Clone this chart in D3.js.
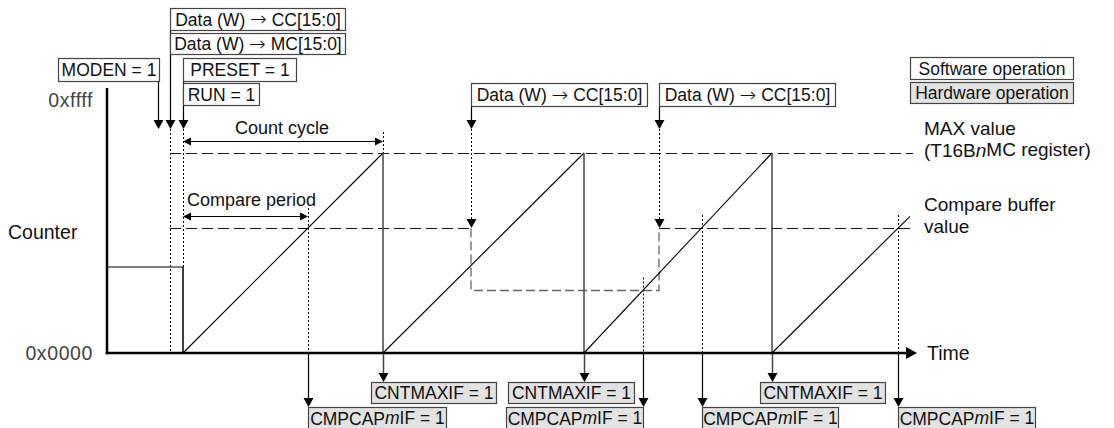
<!DOCTYPE html>
<html>
<head>
<meta charset="utf-8">
<title>Counter operation timing</title>
<style>
  body { margin: 0; background: #fff; }
  text { font-family: "Liberation Sans", Arial, sans-serif; fill: #111; }
</style>
</head>
<body>
<script src="https://cdn.jsdelivr.net/npm/d3@7/dist/d3.min.js"></script>
<script>
// counter waveform (time units, counter value)
var counterTime  = [0, 76, 76, 276, 276, 477, 477, 665, 665, 803];
var counterValue = [0x5800, 0x5800, 0, 0xcccc, 0, 0xcccc, 0, 0xcccc, 0, 0x8c00];
var maxTime  = [63, 806];
var maxValue = 0xcccc;
var compareTime  = [63, 364, 364, 552, 552, 806];
var compareValue = [0x8000, 0x8000, 0x4000, 0x4000, 0x8000, 0x8000];
var yTickValues = [0x0000, 0xffff];

// software operations
var swLabels = ["Data (W) \u2192 CC[15:0]", "Data (W) \u2192 MC[15:0]", "MODEN = 1", "PRESET = 1",
                "RUN = 1", "Data (W) \u2192 CC[15:0]", "Data (W) \u2192 CC[15:0]"];
var swTimes  = [63, 63, 51, 76, 76, 364, 552];

// hardware flags
var hwLabels = ["CNTMAXIF = 1", "CNTMAXIF = 1", "CNTMAXIF = 1",
                "CMPCAP*m*IF = 1", "CMPCAP*m*IF = 1", "CMPCAP*m*IF = 1", "CMPCAP*m*IF = 1"];
var hwTimes  = [276, 477, 665, 201, 536, 595, 791];
var hwValue  = [0xcccc, 0xcccc, 0xcccc, 0x8000, 0x4000, 0x8000, 0x8000];

// box layout: [x offset from event, top, width, height]
var swBox = [[0, 8, 175, 22], [0, 33, 175, 21], [-100, 58, 101, 23], [0, 58, 113, 23],
             [0, 83, 76, 22], [0, 83, 176, 23], [0, 83, 176, 23]];
var hwBox = [[-12, 382, 125, 21], [-76, 382, 126, 21], [-12, 382, 125, 21],
             [0, 407, 138, 22], [-137, 407, 137, 22], [0, 407, 136, 22], [0, 407, 137, 22]];

var W = 1114, H = 428;
var x = d3.scaleLinear().domain([0, 810]).range([107, 917]);
var y = d3.scaleLinear().domain([0, 0xffff]).range([353, 103]);

var svg = d3.select("body").append("svg").attr("width", W).attr("height", H)
  .style("display", "block");

function tri(g, px, py, dir, len, half, color) {
  var pts;
  if (dir == "down")  pts = [[px, py], [px - half, py - len], [px + half, py - len]];
  if (dir == "right") pts = [[px, py], [px - len, py - half], [px - len, py + half]];
  if (dir == "left")  pts = [[px, py], [px + len, py - half], [px + len, py + half]];
  g.append("path").attr("d", "M" + pts.join("L") + "Z").attr("fill", color || "#000");
}

// *word* -> italic, arrow glyph from DejaVu so it is full size
function richText(t, s) {
  s.split("*").forEach(function(p, i) {
    if (!p) return;
    p.split(/(\u2192)/).forEach(function(q) {
      if (!q) return;
      var ts = t.append("tspan").attr("font-style", i % 2 ? "italic" : "normal").text(q);
      if (q == "\u2192") ts.attr("font-family", "'DejaVu Sans'").attr("font-size", "20px")
        .attr("dy", "0.5").attr("font-weight", 300);
      else if (ts.node().previousSibling) ts.attr("dy", "-0.5");
    });
  });
}

function box(g, bx, by, bw, bh, label, fill) {
  g.append("rect").attr("x", bx + 0.5).attr("y", by + 0.5).attr("width", bw).attr("height", bh)
    .attr("fill", fill).attr("stroke", "#444").attr("stroke-width", 1.2);
  var t = g.append("text").attr("x", bx + bw / 2 + 0.5).attr("y", by + bh / 2 + 6.5)
    .attr("text-anchor", "middle").attr("font-size", "17.5px");
  richText(t, label);
}

var dotted = "2,2", dashed = "11,5";
var g = svg.append("g");

function vline(px, y1, y2, dash, color, w) {
  g.append("line").attr("x1", Math.round(px) + 0.5).attr("x2", Math.round(px) + 0.5)
    .attr("y1", y1).attr("y2", y2)
    .attr("stroke", color || "#000").attr("stroke-width", w || 1)
    .attr("stroke-dasharray", dash || null);
}

// dotted guide lines
vline(x(63), 129, y(0), dotted);
vline(x(76), 129, y(0x5800), dotted);
vline(x(276), 132, y(maxValue), dotted);
[364, 552].forEach(function(t) {
  vline(x(t), 129, y(0x8000) - 8, dotted);
  tri(g, Math.round(x(t)) + 0.5, y(0x8000), "down", 9, 5);
});
hwTimes.forEach(function(t, i) {
  if (i < 3) return;
  var yTop = i == 3 ? y(hwValue[i]) - 20 : y(hwValue[i]) - 13;
  vline(x(t), yTop, y(0), dotted);
});

// MAX line and compare buffer (crisp horizontal dashes)
var line = d3.line().x(function(d) { return x(d[0]); }).y(function(d) { return Math.round(y(d[1])) + 0.5; });
g.append("path").attr("d", line([[maxTime[0], maxValue], [maxTime[1], maxValue]]))
  .attr("fill", "none").attr("stroke", "#111").attr("stroke-dasharray", dashed);
var cmp = compareTime.map(function(t, i) { return [t, compareValue[i]]; });
[[cmp[0], cmp[1]], [cmp[4], cmp[5]]].forEach(function(seg) {
  g.append("path").attr("d", line(seg)).attr("fill", "none").attr("stroke", "#111")
    .attr("stroke-dasharray", dashed);
});
g.append("path").attr("d", line(cmp.slice(1, 5))).attr("fill", "none")
  .attr("stroke", "#666").attr("stroke-width", 1.3).attr("stroke-dasharray", "9,4");

// counter waveform: ramps thin, drops darker
var ramp = d3.line().x(function(d) { return x(d[0]); }).y(function(d) { return y(d[1]); });
var pts = counterTime.map(function(t, i) { return [t, counterValue[i]]; });
for (var i = 0; i < pts.length - 1; i++) {
  var a = pts[i], b = pts[i + 1];
  var vertical = a[0] == b[0];
  g.append("path").attr("d", ramp([a, b])).attr("fill", "none")
    .attr("stroke", vertical && i > 1 ? "#444" : "#000").attr("stroke-width", vertical ? 1.5 : 1.1);
}

// axes
var axisG = svg.append("g").attr("transform", "translate(" + x(0) + ",0)")
  .call(d3.axisLeft(y).tickValues(yTickValues).tickSize(0).tickPadding(14)
        .tickFormat(function(d) { return "0x" + d3.format("04x")(d); }));
axisG.select(".domain").remove();
axisG.selectAll("text").attr("font-family", "'Liberation Mono', 'DejaVu Sans Mono', monospace")
  .attr("font-size", "19.5px").attr("letter-spacing", "0.6px").style("fill", "#444");
axisG.selectAll(".tick").filter(function(d) { return d > 0; }).select("text").attr("dy", "0.2em");

svg.append("line").attr("x1", x(0)).attr("x2", x(0)).attr("y1", 88).attr("y2", y(0) + 1.25)
  .attr("stroke", "#000").attr("stroke-width", 2.5);
svg.append("line").attr("x1", x(0) - 1.25).attr("x2", x(801)).attr("y1", y(0)).attr("y2", y(0))
  .attr("stroke", "#000").attr("stroke-width", 2.5);
tri(svg, x(810), y(0), "right", 11, 6);
svg.append("text").attr("x", x(820)).attr("y", y(0) + 7).attr("font-size", "19.5px").text("Time");
svg.append("text").attr("x", 8).attr("y", 239).attr("font-size", "19.5px").text("Counter");

// right-side labels
[["MAX value", 135], ["(T16B*n*MC register)", 157], ["Compare buffer", 211], ["value", 233]]
  .forEach(function(d) {
    var t = svg.append("text").attr("x", 924).attr("y", d[1]).attr("font-size", "19px");
    richText(t, d[0]);
  });

// dimension arrows
function dim(t1, t2, py, label, lx, ly, anchor) {
  g.append("line").attr("x1", x(t1) + 6).attr("x2", x(t2) - 6).attr("y1", py + 0.5).attr("y2", py + 0.5)
    .attr("stroke", "#000");
  tri(g, x(t1), py + 0.5, "left", 8, 4);
  tri(g, x(t2), py + 0.5, "right", 8, 4);
  g.append("text").attr("x", lx).attr("y", ly).attr("font-size", "18px")
    .attr("text-anchor", anchor).text(label);
}
dim(76, 276, 141, "Count cycle", (x(76) + x(276)) / 2 - 1, 134, "middle");
dim(76, 201, 216, "Compare period", 187, 206, "start");

// software operation boxes and arrows
var arrowTop = {};
swTimes.forEach(function(t, i) {
  var b = swBox[i];
  arrowTop[t] = Math.min(arrowTop[t] || 999, b[1] + b[3] + 1);
});
Object.keys(arrowTop).forEach(function(k) {
  vline(x(+k), arrowTop[k], 121, null, "#000", 1.2);
  tri(g, Math.round(x(+k)) + 0.5, 129, "down", 9, 5);
});
swTimes.forEach(function(t, i) {
  var b = swBox[i];
  box(svg, Math.round(x(t)) + b[0], b[1], b[2], b[3], swLabels[i], "#fff");
});

// hardware flags
hwTimes.forEach(function(t, i) {
  var b = hwBox[i];
  vline(x(t), y(0) + 1, b[1] - 8, null, i < 3 ? "#444" : "#000", i < 3 ? 1.5 : 1.2);
  tri(g, Math.round(x(t)) + 0.5, b[1], "down", 9, 5);
  box(svg, Math.round(x(t)) + b[0], b[1], b[2], b[3], hwLabels[i], "#e2e2e2");
});

// legend
box(svg, 910, 57, 163, 22, "Software operation", "#fff");
box(svg, 910, 82, 163, 21, "Hardware operation", "#e2e2e2");
</script>
</body>
</html>
